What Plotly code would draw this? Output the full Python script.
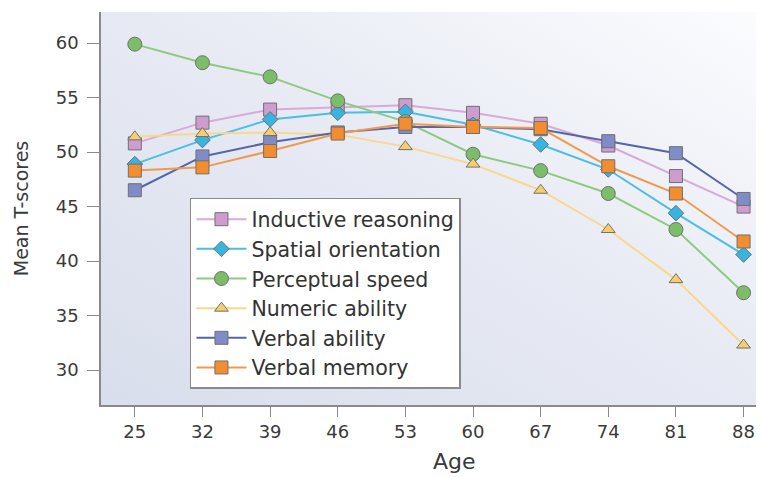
import base64
import plotly.graph_objects as go

ages = [25, 32, 39, 46, 53, 60, 67, 74, 81, 88]
x_ticks = ages

inductive_reasoning = [50.8, 52.7, 53.9, 54.1, 54.3, 53.6, 52.6, 50.6, 47.8, 45.0]
spatial_orientation = [48.9, 51.1, 53.0, 53.6, 53.7, 52.5, 50.7, 48.4, 44.4, 40.6]
perceptual_speed = [59.9, 58.2, 56.9, 54.7, 52.8, 49.8, 48.3, 46.2, 42.9, 37.1]
numeric_ability = [51.4, 51.7, 51.8, 51.6, 50.5, 48.9, 46.5, 42.9, 38.3, 32.3]
verbal_ability = [46.5, 49.6, 50.9, 51.8, 52.3, 52.3, 52.1, 51.0, 49.9, 45.7]
verbal_memory = [48.3, 48.6, 50.1, 51.7, 52.6, 52.3, 52.2, 48.7, 46.2, 41.8]

series_names = ["Inductive reasoning", "Spatial orientation", "Perceptual speed",
                "Numeric ability", "Verbal ability", "Verbal memory"]
series_values = [inductive_reasoning, spatial_orientation, perceptual_speed,
                 numeric_ability, verbal_ability, verbal_memory]

styles = [
    dict(symbol="square", size=13, fill="#cf9ccf", line="#d8aad8"),
    dict(symbol="diamond", size=12, fill="#38b4e0", line="#4cbde3"),
    dict(symbol="circle", size=14, fill="#7cbd69", line="#8ccb7d"),
    dict(symbol="triangle-up", size=12, fill="#f8cd6b", line="#f8d88a"),
    dict(symbol="square", size=13, fill="#7f8cc8", line="#5565a8"),
    dict(symbol="square", size=13, fill="#f28e30", line="#f19a4c"),
]

fig = go.Figure()
for name, vals, st in zip(series_names, series_values, styles):
    fig.add_trace(go.Scatter(
        x=ages, y=vals, name=name, mode="lines+markers",
        line=dict(color=st["line"], width=2),
        marker=dict(symbol=st["symbol"], size=st["size"], color=st["fill"],
                    line=dict(color="#707070", width=1)),
    ))

svg = (
    '<svg xmlns="http://www.w3.org/2000/svg" width="100" height="100" preserveAspectRatio="none">'
    '<defs><linearGradient id="g" x1="0" y1="1" x2="1" y2="0">'
    '<stop offset="0" stop-color="#d9deec"/>'
    '<stop offset="0.55" stop-color="#e8ebf4"/>'
    '<stop offset="1" stop-color="#fbfcfe"/>'
    '</linearGradient></defs>'
    '<rect width="100" height="100" fill="url(#g)"/></svg>'
)
src = "data:image/svg+xml;base64," + base64.b64encode(svg.encode()).decode()

font_family = "DejaVu Sans, Liberation Sans, Arial, sans-serif"

fig.update_layout(
    width=756, height=469,
    margin=dict(l=93, r=4, t=4, b=72),
    paper_bgcolor="white",
    plot_bgcolor="#e9ecf4",
    font=dict(family=font_family, color="#3a3a3a"),
    images=[dict(source=src, xref="paper", yref="paper", x=0, y=1,
                 sizex=1, sizey=1, sizing="stretch", layer="below",
                 xanchor="left", yanchor="top")],
    showlegend=True,
    legend=dict(
        x=0.135, y=0.527, xanchor="left", yanchor="top",
        bgcolor="white", bordercolor="#8a8a8a", borderwidth=1.5,
        font=dict(size=20.5, family=font_family, color="#333333"),
        itemwidth=50,
        tracegroupgap=0,
    ),
    xaxis=dict(
        range=[21.5, 89.7], tickvals=x_ticks, ticktext=[str(t) for t in x_ticks],
        showgrid=False, zeroline=False,
        showline=True, linecolor="#8a8a8a", linewidth=1.5,
        ticks="outside", ticklen=10, tickcolor="#8a8a8a", tickwidth=1,
        tickfont=dict(size=18, color="#3a3a3a"),
    ),
    yaxis=dict(
        range=[26.8, 62.85], tickvals=[30, 35, 40, 45, 50, 55, 60],
        showgrid=False, zeroline=False,
        showline=True, linecolor="#8a8a8a", linewidth=1.5,
        ticks="outside", ticklen=12, tickcolor="#8a8a8a", tickwidth=1,
        ticklabelstandoff=5,
        tickfont=dict(size=18, color="#3a3a3a"),
        title=dict(text="Mean T-scores", font=dict(size=19, color="#3a3a3a"), standoff=22),
    ),
    annotations=[dict(text="Age", xref="paper", yref="paper", x=0.537, y=-0.145,
                      xanchor="center", yanchor="middle", showarrow=False,
                      font=dict(size=22, color="#3a3a3a"))],
)

fig.write_html("out.html")
